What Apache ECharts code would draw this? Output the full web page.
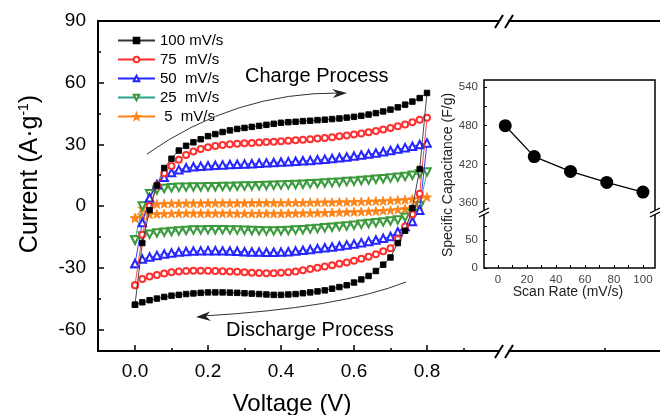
<!DOCTYPE html>
<html>
<head>
<meta charset="utf-8">
<script src="https://cdn.jsdelivr.net/npm/echarts@6/dist/echarts.min.js"></script>
<style>html,body{margin:0;padding:0;background:#fff}#c{width:660px;height:415px}</style>
</head>
<body>
<div id="c"></div>
<script>
// ---------- data ----------
const voltage = [0.00,0.02,0.04,0.06,0.08,0.10,0.12,0.14,0.16,0.18,0.20,0.22,0.24,0.26,0.28,0.30,0.32,0.34,0.36,0.38,0.40,
                 0.42,0.44,0.46,0.48,0.50,0.52,0.54,0.56,0.58,0.60,0.62,0.64,0.66,0.68,0.70,0.72,0.74,0.76,0.78,0.80];

const seriesNames = ['100 mV/s', '75  mV/s', '50  mV/s', '25  mV/s', ' 5  mV/s'];

// charge (anodic) branch, V ascending
const charge100 = [-48,-18,-2,10,18.5,23,27,29.3,31,32.5,34,35,36,36.8,37.5,38,38.5,39,39.5,40,40.5,
                   40.8,41,41.3,41.5,41.8,42,42.3,42.6,43,43.4,43.9,44.5,45.2,46,46.9,48,49.3,50.8,52.5,55];
const charge75  = [-38.5,-14,0,10,16,19.5,22.5,24.8,26.5,27.7,28.6,29.2,29.7,30,30.3,30.5,30.7,30.9,31.1,31.3,31.5,
                   31.7,32,32.2,32.5,32.8,33.1,33.5,33.9,34.3,34.8,35.3,35.9,36.5,37.2,38,38.8,39.7,40.8,42,43];
const charge50  = [-28,-8,4,10.5,14,16.3,17.7,18.6,19.1,19.4,19.6,19.8,20,20.2,20.3,20.5,20.6,20.8,21,21.2,21.4,
                   21.6,21.8,22,22.2,22.5,22.8,23.1,23.5,23.9,24.3,24.8,25.3,25.8,26.4,27,27.7,28.4,29.1,29.9,30.7];
const charge25  = [-16.5,0,6,7.8,8.5,8.9,9.1,9.2,9.3,9.3,9.4,9.4,9.5,9.5,9.6,9.7,9.8,9.9,10,10.1,10.2,
                   10.3,10.5,10.6,10.8,11,11.2,11.4,11.6,11.9,12.1,12.4,12.7,13,13.3,13.6,14,14.4,15,15.7,16.6];
const charge5   = [-5.8,-1,0.5,1,1.2,1.3,1.3,1.4,1.4,1.4,1.5,1.5,1.5,1.5,1.5,1.5,1.6,1.6,1.6,1.6,1.6,
                   1.7,1.7,1.7,1.8,1.8,1.9,1.9,2,2,2.1,2.2,2.3,2.4,2.5,2.7,2.9,3.1,3.4,3.8,4.4];

// discharge (cathodic) branch, listed at V ascending
const discharge100 = [-48,-46.8,-45.8,-45,-44.2,-43.6,-43.2,-42.8,-42.5,-42.2,-42,-42,-42,-42.1,-42.2,-42.4,-42.6,-42.8,-43,-43.2,-43.2,
                      -43,-42.8,-42.4,-42,-41.5,-41,-40.2,-39.4,-38.5,-37.2,-35.7,-34,-31.6,-28.5,-25,-18,-12,-1,18,55];
const discharge75  = [-38.5,-35.5,-34.3,-33.5,-32.8,-32.2,-31.8,-31.6,-31.5,-31.5,-31.5,-31.6,-31.7,-31.8,-32,-32.2,-32.4,-32.6,-32.7,-32.7,-32.5,
                      -32.2,-31.8,-31.2,-30.6,-30,-29.4,-28.8,-28.1,-27.4,-26.6,-25.6,-24.6,-23.4,-22,-20.5,-16,-10,-4,6,43];
const discharge50  = [-28,-25.8,-24.8,-24,-23.3,-22.8,-22.4,-22.1,-21.9,-21.8,-21.7,-21.7,-21.8,-21.9,-22,-22.2,-22.3,-22.4,-22.5,-22.5,-22.4,
                      -22.2,-21.9,-21.5,-21.1,-20.7,-20.3,-19.9,-19.4,-18.9,-18.4,-17.8,-17.2,-16.5,-15.7,-14.8,-12.5,-10,-7.5,-2,30.7];
const discharge25  = [-16.5,-14.6,-13.7,-13.1,-12.7,-12.4,-12.1,-11.9,-11.7,-11.6,-11.5,-11.5,-11.5,-11.6,-11.7,-11.8,-11.9,-12,-12.1,-12.1,-12,
                      -11.9,-11.7,-11.5,-11.2,-10.9,-10.6,-10.3,-10,-9.7,-9.3,-8.9,-8.5,-8.1,-7.7,-7.3,-6.8,-5.5,-3.5,0,16.6];
const discharge5   = [-5.8,-4.5,-4,-3.8,-3.7,-3.6,-3.5,-3.5,-3.5,-3.5,-3.5,-3.5,-3.5,-3.5,-3.6,-3.6,-3.6,-3.6,-3.6,-3.6,-3.6,
                      -3.5,-3.5,-3.4,-3.4,-3.3,-3.2,-3.1,-3,-2.9,-2.8,-2.7,-2.6,-2.4,-2.2,-2,-1.7,-1.3,-0.8,0.5,4.4];

// inset
const scanRates = [5, 25, 50, 75, 100];
const capacitance = [480, 432, 409, 392, 377];

// ticks
const xMajorTicks = [0.0, 0.2, 0.4, 0.6, 0.8];
const xMinorTicks = [0.1, 0.3, 0.5, 0.7, 0.9, 1.288];
const yMajorTicks = [-60, -30, 0, 30, 60, 90];
const yMinorTicks = [-45, -15, 15, 45, 75];
const insetXTicks = [0, 10, 20, 30, 40, 50, 60, 70, 80, 90, 100];
const insetXLabels = [0, 20, 40, 60, 80, 100];
const insetUpperTicks = [360, 390, 420, 450, 480, 510, 540];
const insetUpperLabels = [360, 420, 480, 540];
const insetLowerTicks = [0, 25, 50, 75];
const insetLowerLabels = [0, 50];

// ---------- build ----------
function loop(ch, dis) {
  const pts = ch.map((v, i) => [voltage[i], v]);
  for (let i = dis.length - 2; i >= 0; i--) pts.push([voltage[i], dis[i]]);
  return pts;
}
const FONT = 'Arial, "Liberation Sans", sans-serif';
const star = 'path://M0,-10 L2.35,-3.24 L9.51,-3.09 L3.8,1.24 L5.88,8.09 L0,4 L-5.88,8.09 L-3.8,1.24 L-9.51,-3.09 L-2.35,-3.24 Z';

const styles = [
  {data: loop(charge100, discharge100), symbol: 'rect', size: 5.5, line: '#333', border: '#000', rot: 0},
  {data: loop(charge75, discharge75), symbol: 'emptyCircle', size: 6, line: '#ff3030', border: '#ff3030', rot: 0},
  {data: loop(charge50, discharge50), symbol: 'emptyTriangle', size: 7.5, line: '#2525ff', border: '#2525ff', rot: 0},
  {data: loop(charge25, discharge25), symbol: 'emptyTriangle', size: 7.5, line: '#2aa08c', border: '#3a9a3a', rot: 180},
  {data: loop(charge5, discharge5), symbol: star, size: 9, line: '#ff8418', border: '#ff8418', rot: 0}
];

const series = styles.map((s, k) => ({
  type: 'line', name: seriesNames[k], xAxisIndex: 0, yAxisIndex: 0,
  data: s.data, symbol: s.symbol, symbolSize: s.size, symbolRotate: s.rot, showAllSymbol: true,
  lineStyle: {color: s.line, width: 0.9},
  itemStyle: {color: s.border, borderColor: s.border, borderWidth: 0.9},
  z: 5 - k
}));
series.push({
  type: 'line', xAxisIndex: 3, yAxisIndex: 2,
  data: scanRates.map((x, i) => [x, capacitance[i]]),
  symbol: 'circle', symbolSize: 13,
  lineStyle: {color: '#000', width: 1.3},
  itemStyle: {color: '#000'}
});

const chart = echarts.init(document.getElementById('c'), null, {renderer: 'canvas'});
const axisBase = {type: 'value', splitLine: {show: false}};
chart.setOption({
  animation: false,
  backgroundColor: '#fff',
  grid: [
    {left: 98, top: 21, right: 0, bottom: 64},
    {left: 484, top: 80, width: 171, height: 132},
    {left: 484, top: 212, width: 171, height: 56}
  ],
  xAxis: [
    Object.assign({}, axisBase, {gridIndex: 0, position: 'bottom', min: -0.1014, max: 1.4384,
      axisLine: {onZero: false, lineStyle: {color: '#000', width: 2}},
      axisTick: {inside: true, length: 6, customValues: xMajorTicks, lineStyle: {color: '#000', width: 1.5}},
      axisLabel: {customValues: xMajorTicks, formatter: v => v.toFixed(1), margin: 11, color: '#000', fontSize: 19, fontFamily: FONT}}),
    Object.assign({}, axisBase, {gridIndex: 0, position: 'bottom', min: -0.1014, max: 1.4384,
      axisLine: {show: false, onZero: false},
      axisTick: {inside: true, length: 3, customValues: xMinorTicks, lineStyle: {color: '#000', width: 1.5}},
      axisLabel: {show: false}}),
    Object.assign({}, axisBase, {gridIndex: 0, position: 'top', min: -0.1014, max: 1.4384,
      axisLine: {onZero: false, lineStyle: {color: '#000', width: 2}},
      axisTick: {show: false}, axisLabel: {show: false}}),
    Object.assign({}, axisBase, {gridIndex: 1, min: -9.66, max: 108.3, show: false}),
    Object.assign({}, axisBase, {gridIndex: 2, position: 'bottom', min: -9.66, max: 108.3,
      axisLine: {show: false, onZero: false},
      axisTick: {inside: true, length: 3, customValues: insetXTicks, lineStyle: {color: '#000', width: 1}},
      axisLabel: {customValues: insetXLabels, margin: 6, color: '#444', fontSize: 11.5, fontFamily: FONT}})
  ],
  yAxis: [
    Object.assign({}, axisBase, {gridIndex: 0, position: 'left', min: -70.5, max: 90,
      axisLine: {onZero: false, lineStyle: {color: '#000', width: 2}},
      axisTick: {inside: true, length: 6, customValues: yMajorTicks, lineStyle: {color: '#000', width: 1.5}},
      axisLabel: {customValues: yMajorTicks, margin: 12, color: '#000', fontSize: 19, fontFamily: FONT}}),
    Object.assign({}, axisBase, {gridIndex: 0, position: 'left', min: -70.5, max: 90,
      axisLine: {show: false, onZero: false},
      axisTick: {inside: true, length: 3, customValues: yMinorTicks, lineStyle: {color: '#000', width: 1.5}},
      axisLabel: {show: false}}),
    Object.assign({}, axisBase, {gridIndex: 1, position: 'left', min: 346, max: 551,
      axisLine: {show: false, onZero: false},
      axisTick: {inside: true, length: 3, customValues: insetUpperTicks, lineStyle: {color: '#000', width: 1}},
      axisLabel: {customValues: insetUpperLabels, margin: 6, color: '#444', fontSize: 11.5, fontFamily: FONT}}),
    Object.assign({}, axisBase, {gridIndex: 2, position: 'left', min: 0, max: 100,
      axisLine: {show: false, onZero: false},
      axisTick: {inside: true, length: 3, customValues: insetLowerTicks, lineStyle: {color: '#000', width: 1}},
      axisLabel: {customValues: insetLowerLabels, margin: 6, color: '#444', fontSize: 11.5, fontFamily: FONT}})
  ],
  legend: {
    data: seriesNames, orient: 'vertical', left: 112, top: 28,
    itemWidth: 37, itemHeight: 7, itemGap: 4,
    textStyle: {fontSize: 15, fontFamily: FONT, color: '#000', lineHeight: 15}
  },
  series: series,
  graphic: [
    // main axis breaks
    {type: 'rect', z: 100, shape: {x: 500, y: 18, width: 8, height: 6}, style: {fill: '#fff'}},
    {type: 'line', z: 100, shape: {x1: 495, y1: 28, x2: 503, y2: 15}, style: {stroke: '#000', lineWidth: 2}},
    {type: 'line', z: 100, shape: {x1: 505, y1: 28, x2: 513, y2: 15}, style: {stroke: '#000', lineWidth: 2}},
    {type: 'rect', z: 100, shape: {x: 500, y: 348, width: 8, height: 6}, style: {fill: '#fff'}},
    {type: 'line', z: 100, shape: {x1: 495, y1: 358, x2: 503, y2: 345}, style: {stroke: '#000', lineWidth: 2}},
    {type: 'line', z: 100, shape: {x1: 505, y1: 358, x2: 513, y2: 345}, style: {stroke: '#000', lineWidth: 2}},
    // inset frame
    {type: 'rect', z: 100, shape: {x: 484, y: 80, width: 171, height: 188}, style: {fill: 'none', stroke: '#000', lineWidth: 1.5}},
    {type: 'rect', z: 101, shape: {x: 481, y: 210, width: 6, height: 4}, style: {fill: '#fff'}},
    {type: 'line', z: 102, shape: {x1: 479, y1: 213, x2: 489, y2: 208}, style: {stroke: '#000', lineWidth: 1.3}},
    {type: 'line', z: 102, shape: {x1: 479, y1: 217, x2: 489, y2: 212}, style: {stroke: '#000', lineWidth: 1.3}},
    {type: 'rect', z: 101, shape: {x: 652, y: 210, width: 6, height: 4}, style: {fill: '#fff'}},
    {type: 'line', z: 102, shape: {x1: 650, y1: 213, x2: 660, y2: 208}, style: {stroke: '#000', lineWidth: 1.3}},
    {type: 'line', z: 102, shape: {x1: 650, y1: 217, x2: 660, y2: 212}, style: {stroke: '#000', lineWidth: 1.3}},
    // arrows
    {type: 'bezierCurve', z: 100, shape: {x1: 147, y1: 154, cpx1: 235, cpy1: 92, x2: 340, y2: 93}, style: {stroke: '#333', lineWidth: 1, fill: null}},
    {type: 'polygon', z: 100, shape: {points: [[347, 93], [332, 89], [337, 93.3], [333, 98]]}, style: {fill: '#222'}},
    {type: 'bezierCurve', z: 100, shape: {x1: 406, y1: 282, cpx1: 340, cpy1: 308, x2: 203, y2: 316}, style: {stroke: '#333', lineWidth: 1, fill: null}},
    {type: 'polygon', z: 100, shape: {points: [[196, 317], [210, 311.5], [206, 316.5], [211, 321]]}, style: {fill: '#222'}},
    // annotation text
    {type: 'text', z: 100, x: 245, y: 76, style: {text: 'Charge Process', font: '20px ' + FONT, fill: '#000', textVerticalAlign: 'middle'}},
    {type: 'text', z: 100, x: 226, y: 330, style: {text: 'Discharge Process', font: '20px ' + FONT, fill: '#000', textVerticalAlign: 'middle'}},
    // axis titles
    {type: 'text', z: 100, x: 292, y: 404, style: {text: 'Voltage (V)', font: '24px ' + FONT, fill: '#000', textAlign: 'center', textVerticalAlign: 'middle'}},
    {type: 'text', z: 100, x: 30, y: 174, rotation: Math.PI / 2,
      style: {text: 'Current (A·g{sup|-1})', font: '25px ' + FONT, fill: '#000', textAlign: 'center', textVerticalAlign: 'middle',
        rich: {sup: {fontSize: 14, fontFamily: FONT, verticalAlign: 'top', padding: [0, 0, 10, 0]}}}},
    {type: 'text', z: 100, x: 448, y: 175, rotation: Math.PI / 2,
      style: {text: 'Specific Capacitance (F/g)', font: '14px ' + FONT, fill: '#222', textAlign: 'center', textVerticalAlign: 'middle'}},
    {type: 'text', z: 100, x: 568, y: 292, style: {text: 'Scan Rate (mV/s)', font: '14px ' + FONT, fill: '#222', textAlign: 'center', textVerticalAlign: 'middle'}}
  ]
});
</script>
</body>
</html>
